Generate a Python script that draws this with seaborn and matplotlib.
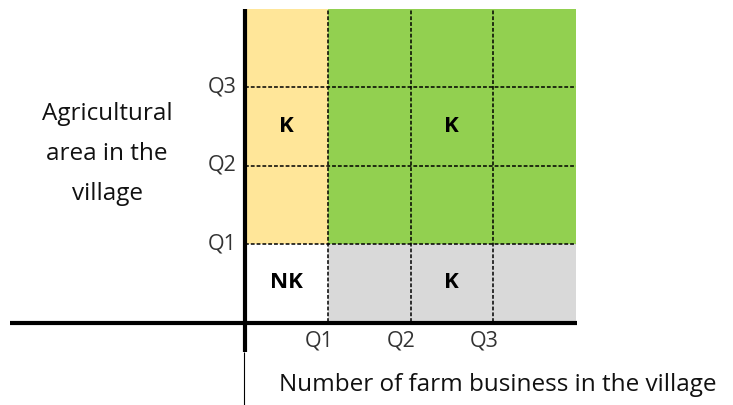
import numpy as np
import matplotlib
matplotlib.use("Agg")
import matplotlib.pyplot as plt
import matplotlib.transforms as mtransforms
from matplotlib.colors import ListedColormap
from matplotlib.lines import Line2D
import seaborn as sns

sns.set_style("white")
plt.rcParams['font.family'] = ['Open Sans', 'DejaVu Sans']

# quadrants: rows from top (>Q3) to bottom (<Q1), columns from left (<Q1) to right (>Q3)
# 0 = none, 1 = grey, 2 = tan, 3 = green
cell_class = np.array([[2, 3, 3, 3],
                       [2, 3, 3, 3],
                       [2, 3, 3, 3],
                       [0, 1, 1, 1]])
cell_text = np.array([['', '', '', ''],
                      ['K', '', 'K', ''],
                      ['', '', '', ''],
                      ['NK', '', 'K', '']])
class_colors = ['#ffffff', '#d9d9d9', '#ffe699', '#92d050']
x_ticklabels = ['Q1', 'Q2', 'Q3']
y_ticklabels = ['Q3', 'Q2', 'Q1']
x_title = 'Number of farm business in the village'
y_title = 'Agricultural\narea in the\nvillage'

W, H = 733, 405
fig = plt.figure(figsize=(W / 100, H / 100), dpi=100)


def fx(px):
    return px / W


def fy(py):
    return 1 - py / H


ax = fig.add_axes([fx(245), fy(322), fx(576) - fx(245), fy(9) - fy(322)])
sns.heatmap(cell_class, ax=ax, cmap=ListedColormap(class_colors), vmin=-0.5, vmax=3.5,
            cbar=False, annot=cell_text, fmt='',
            annot_kws={'fontsize': 16, 'fontweight': 'bold', 'color': 'black'})

# dashed quartile grid
for k in range(1, cell_class.shape[0]):
    ax.axhline(k, color='black', lw=1.1, ls=(0, (2.5, 1.3)))
for k in range(1, cell_class.shape[1]):
    ax.axvline(k, color='black', lw=1.1, ls=(0, (2.5, 1.3)))

ax.set_xticks(np.arange(1, cell_class.shape[1]))
ax.set_xticklabels(x_ticklabels, rotation=0, fontsize=15.5, color='#333333')
ax.set_yticks(np.arange(1, cell_class.shape[0]))
ax.set_yticklabels(y_ticklabels, rotation=0, fontsize=15.5, color='#333333')
ax.tick_params(axis='both', length=0)
ax.tick_params(axis='x', pad=6)
ax.tick_params(axis='y', pad=6)
shift = mtransforms.ScaledTranslation(-0.09, 0, fig.dpi_scale_trans)
for lab in ax.get_xticklabels():
    lab.set_transform(lab.get_transform() + shift)
for s in ax.spines.values():
    s.set_visible(False)

# thick axis lines
fig.add_artist(Line2D([fx(10), fx(577)], [fy(323), fy(323)], color='black', lw=3,
                      transform=fig.transFigure, solid_capstyle='butt'))
fig.add_artist(Line2D([fx(245), fx(245)], [fy(9), fy(352)], color='black', lw=3,
                      transform=fig.transFigure, solid_capstyle='butt'))
fig.add_artist(Line2D([fx(243.5), fx(243.5)], [fy(352), fy(405)], color='black', lw=0.8,
                      transform=fig.transFigure, solid_capstyle='butt'))

fig.text(fx(107), fy(154), y_title, ha='center', va='center', fontsize=17.5,
         linespacing=1.9, color='#111111')
fig.text(fx(498), fy(385), x_title, ha='center', va='center', fontsize=17.5,
         color='#111111')

fig.savefig('out.png', dpi=100)
